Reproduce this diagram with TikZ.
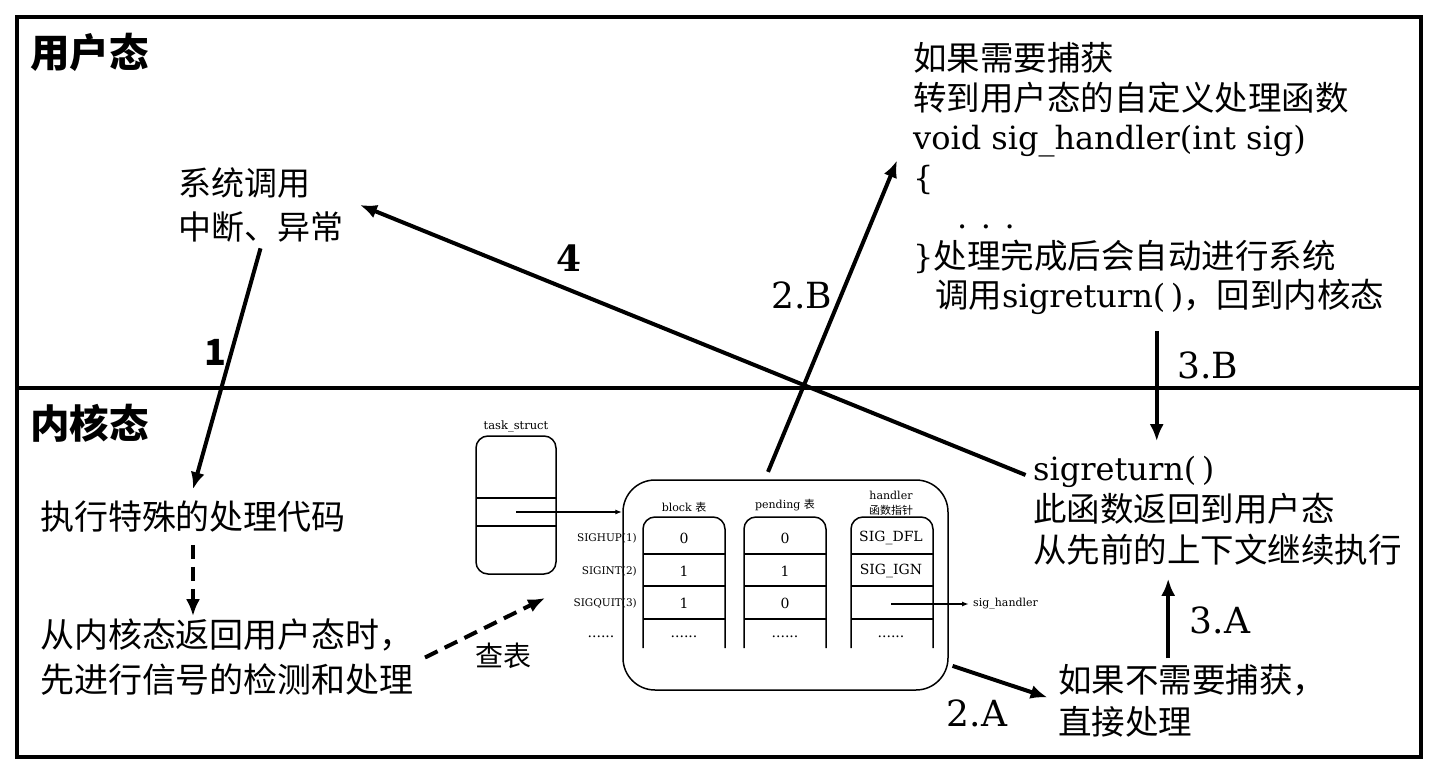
\documentclass[tikz,border=0pt]{standalone}
\usepackage{fontspec}
\setmainfont{DejaVu Serif}
\newfontfamily\cjk{Noto Sans CJK SC}
\usetikzlibrary{arrows.meta}

\newcommand\zh[1]{{\cjk\fontsize{33.5}{39.5}\selectfont #1}}

\begin{document}
\begin{tikzpicture} [x=1pt, y=-1pt,
	borderline/.style={line width=4pt},
	flow/.style={line width=4pt, -{Latex[length=17pt, width=14pt]}},
	dashflow/.style={flow, dash pattern=on 14pt off 8pt},
	thinline/.style={line width=1.5pt},
	ptr/.style={thinline, -{Latex[length=7pt, width=5pt]}},
	txt/.style={inner sep=0pt, align=left, font=\fontsize{33.5}{#1}\selectfont\cjk},
	txt/.default=44,
	codetxt/.style={inner sep=0pt, align=left, font=\fontsize{32}{39.5}\selectfont},
	numlbl/.style={inner sep=0pt, font=\fontsize{36}{40}\selectfont},
	cell/.style={inner sep=0pt, font=\fontsize{14}{16}\selectfont},
	hdr/.style={inner sep=0pt, align=center, font=\fontsize{11}{15}\selectfont},
	sidelbl/.style={inner sep=0pt, anchor=east, font=\fontsize{10.5}{12}\selectfont}]

		\useasboundingbox (0,0) rectangle (1436,774);

		\draw [borderline] (17,17) rectangle (1421,757);

		\draw [borderline] (17,388) -- (1421,388);

		\node[txt, anchor=west, font=\fontsize{39.5}{44}\selectfont\cjk\bfseries] (user) at (30,52) {用户态};

		\node[txt, anchor=west, font=\fontsize{39.5}{44}\selectfont\cjk\bfseries] (kernel) at (30,423) {内核态};

		% left side
		\node[txt, font=\fontsize{33}{44}\selectfont\cjk, outer xsep=17pt, outer ysep=6pt] (syscall) at (260.5,205)%
		{系统调用\\中断、异常};

		\node[txt, font=\fontsize{34}{45}\selectfont\cjk, outer ysep=12pt] (special) at (193,517)%
		{执行特殊的处理代码};

		\node[txt, font=\fontsize{34}{45}\selectfont\cjk, outer xsep=11pt, outer ysep=3pt] (check) at (227,657.5)%
		{从内核态返回用户态时，\\先进行信号的检测和处理};

		\node[txt, font=\fontsize{28}{30}\selectfont\cjk] (lookuplbl) at (503,656) {查表};

		\coordinate (lookup) at (545,598);

		% task_struct
		\node[draw, thinline, rounded corners=12pt, minimum width=80pt, minimum height=138pt] (task) at (516,505) {};

		\draw [thinline] (476,498) -- (556,498);

		\draw [thinline] (476,526) -- (556,526);

		\node[above, inner sep=3pt, font=\fontsize{11.5}{13}\selectfont] (tasklbl) at (task.north) {task\_struct};

		% signal tables
		\node[draw, thinline, rounded corners=32pt, minimum width=325pt, minimum height=210pt] (bigbox) at (785.5,585) {};

		\coordinate (taskptr) at (516,512);

		\draw [ptr] (taskptr) -- (taskptr -| bigbox.west);

		\foreach \x in {643,744,851}
		{
			\draw [thinline, rounded corners=12pt] (\x,648) -- (\x,517) -- (\x+82,517) -- (\x+82,648);
			\foreach \y in {554,586,619}
				\draw [thinline] (\x,\y) -- (\x+82,\y);
		}

		\node[hdr] (blkhdr) at (684,507) {block {\cjk 表}};

		\node[hdr] (pndhdr) at (785,505) {pending {\cjk 表}};

		\node[hdr] (hdlhdr) at (891,503) {handler\\{\cjk 函数指针}};

		\foreach \y/\b/\p/\h/\sig in {538/0/0/SIG\_DFL/SIGHUP(1), 571/1/1/SIG\_IGN/SIGINT(2), 603/1/0//SIGQUIT(3)}
		{
			\node[cell] (blk\y) at (684,\y) {\b};
			\node[cell] (pnd\y) at (785,\y) {\p};
			\node[cell] (hdl\y) at (891,\y) {\h};
			\node[sidelbl] (sig\y) at (637,\y) {\sig};
		}

		\foreach \x in {601,684,785,891}
			\node[cell] (dots\x) at (\x,637) {......};

		\coordinate (hdlptr) at (891,604);

		\node[anchor=west, inner sep=0pt, font=\fontsize{11}{13}\selectfont] (sighdl) at (973,604) {sig\_handler};

		\draw [ptr, shorten >=4pt] (hdlptr) -- (sighdl.west);

		% right side
		\node[codetxt, anchor=west] (catch) at (913,178.5)%
		{\zh{如果需要捕获}\\\zh{转到用户态的自定义处理函数}\\void sig\_handler(int sig)\\\{\\\hspace*{44pt}. . .\\\}\zh{处理完成后会自动进行系统}\\\hspace*{22pt}\zh{调用}sigreturn(\,)\zh{，回到内核态}};

		\node[codetxt, anchor=west, font=\fontsize{32}{41}\selectfont] (sigret) at (1033,511)%
		{sigreturn(\,)\\\zh{此函数返回到用户态}\\\zh{从先前的上下文继续执行}};

		\node[txt=42, anchor=west] (nocatch) at (1058,701)%
		{如果不需要捕获，\\直接处理};

		% step numbers
		\node[numlbl, font=\fontsize{36}{40}\selectfont\cjk\bfseries] (n1) at (215,352) {1};

		\node[numlbl] (n2b) at (802,295) {2.B};

		\node[numlbl] (n2a) at (977,713) {2.A};

		\node[numlbl] (n3b) at (1208,365) {3.B};

		\node[numlbl] (n3a) at (1220,620) {3.A};

		\node[numlbl, font=\fontsize{36}{40}\selectfont\bfseries] (n4) at (569,258) {4};

		% connectors
		\draw [flow] (syscall.south) -- (special.north);

		\draw [dashflow] (special.south) -- (special.south |- check.north);

		\draw [dashflow] (check.east) -- (lookup);

		\draw [flow, shorten <=8pt] (bigbox.101) -- ([shift={(-16pt,18pt)}]catch.west);

		\draw [flow, shorten <=4pt, shorten >=11pt] (bigbox.-26) -- (nocatch.west);

		\draw [flow, shorten <=16pt, shorten >=15pt] ([xshift=8pt]catch.south) -- ([xshift=8pt]catch.south |- sigret.north);

		\draw [flow, shorten <=6pt, shorten >=13pt] ([xshift=-24pt]nocatch.north) -- ([xshift=-24pt]nocatch.north |- sigret.south);

		\draw [flow, shorten <=8pt] ([yshift=33pt]sigret.west) -- (syscall.east);
	\end{tikzpicture}
\end{document}
